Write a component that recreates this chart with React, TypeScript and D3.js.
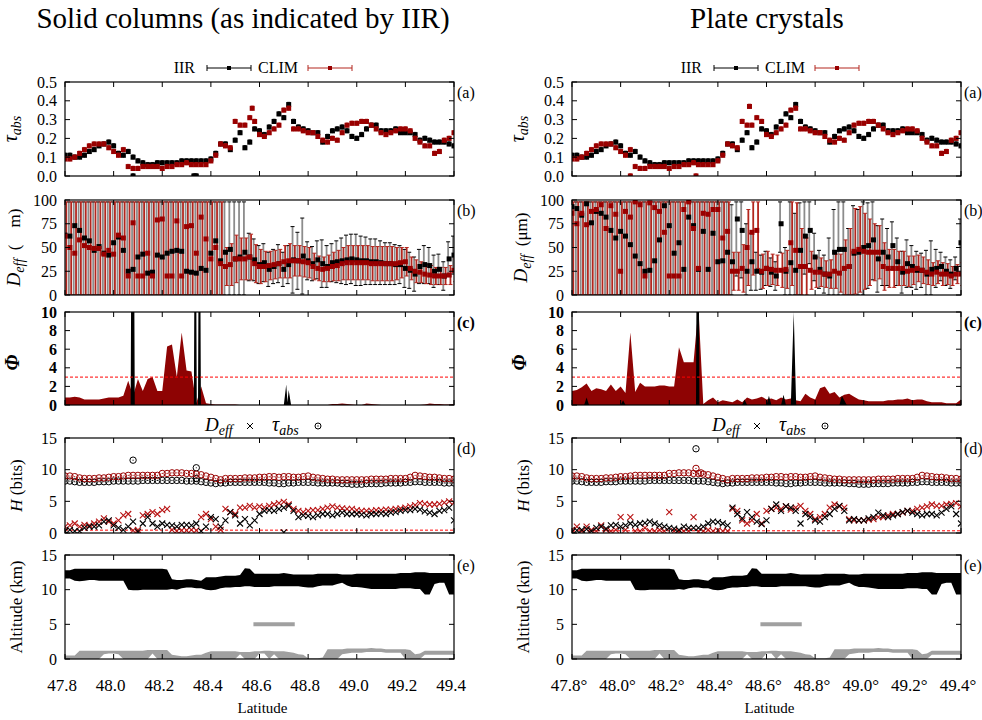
import React, { useEffect, useRef } from 'react'
import * as d3 from 'd3'

type Pair = [number, number]

// retrieval grid (0.02 deg steps) and axis ticks
const lat = d3.range(81).map(i => Math.round((47.8 + i * 0.02) * 100) / 100)
const latTicks = [47.8, 48.0, 48.2, 48.4, 48.6, 48.8, 49.0, 49.2, 49.4]
const titles = ['Solid columns (as indicated by IIR)', 'Plate crystals']
const seriesNames = ['IIR', 'CLIM']

// (a) absorption optical depth
const tauIIR = [
  0.11, 0.11, 0.10, 0.10, 0.11, 0.13, 0.14, 0.16, 0.17, 0.18,
  0.16, 0.12, 0.11, 0.13, 0.10, 0.08, 0.07, 0.06, 0.06, 0.07,
  0.07, 0.07, 0.07, 0.07, 0.08, 0.08, 0.08, 0.08, 0.08, 0.08,
  0.09, 0.12, 0.17, 0.17, 0.14, 0.19, 0.23, 0.15, 0.18, 0.25,
  0.24, 0.22, 0.26, 0.29, 0.33, 0.31, 0.38, 0.29, 0.26, 0.25,
  0.24, 0.23, 0.23, 0.18, 0.21, 0.24, 0.25, 0.26, 0.24, 0.21,
  0.20, 0.22, 0.25, 0.27, 0.27, 0.24, 0.24, 0.24, 0.25, 0.23,
  0.23, 0.23, 0.22, 0.19, 0.20, 0.19, 0.18, 0.18, 0.18, 0.17,
  0.16
]
const tauCLIM = [
  0.09, 0.09, 0.10, 0.12, 0.14, 0.16, 0.17, 0.17, 0.17, 0.15,
  0.13, 0.11, 0.14, 0.05, 0.04, 0.04, 0.05, 0.05, 0.05, 0.05,
  0.04, 0.05, 0.05, 0.06, 0.06, 0.07, 0.06, 0.06, 0.06, 0.06,
  0.08, 0.11, 0.17, 0.16, 0.15, 0.29, 0.27, 0.27, 0.31, 0.29,
  0.22, 0.21, 0.23, 0.25, 0.27, 0.35, 0.36, 0.25, 0.25, 0.24,
  0.23, 0.23, 0.21, 0.19, 0.18, 0.20, 0.19, 0.23, 0.27, 0.28,
  0.28, 0.29, 0.29, 0.27, 0.25, 0.23, 0.22, 0.23, 0.24, 0.25,
  0.25, 0.24, 0.20, 0.18, 0.16, 0.16, 0.12, 0.13, 0.19, 0.20,
  0.23
]
const tauErr = 0.012
const tauColIIRExtra: Pair[] = [[48.08, 0], [48.33, 0], [48.34, 0]]
const tauColCLIMExtra: Pair[] = [[48.57, 0.36]]
const tauPlaIIRExtra: Pair[] = []
const tauPlaCLIMExtra: Pair[] = [[48.04, 0], [48.31, 0], [48.53, 0.37]]

// (b) effective diameter and error half-widths, solid columns
const deffColIIR = [
  63, 62, 73, 68, 60, 57, 47, 51, 44, 42,
  55, 61, 47, 25, 27, 40, 43, 23, 24, 42,
  40, 44, 46, 47, 46, 25, 24, 23, 28, 26,
  44, 57, 36, 45, 48, 38, 40, 45, 40, 37,
  32, 34, 27, 30, 33, 27, 32, 37, 36, 41,
  36, 33, 37, 33, 30, 34, 35, 36, 37, 38,
  37, 36, 36, 35, 35, 34, 33, 33, 32, 32,
  28, 26, 22, 30, 32, 31, 25, 27, 20, 38,
  42
]
const deffColIIRErr = [
  100, 100, 100, 100, 100, 100, 100, 100, 100, 100,
  100, 100, 100, 100, 100, 100, 100, 100, 100, 100,
  100, 100, 100, 100, 100, 100, 100, 100, 100, 100,
  100, 100, 100, 60, 60, 100, 100, 60, 25, 22,
  20, 20, 18, 18, 20, 18, 20, 35, 30, 40,
  20, 18, 20, 25, 22, 20, 22, 24, 26, 26,
  27, 26, 25, 24, 24, 23, 22, 22, 21, 20,
  20, 19, 18, 18, 20, 19, 17, 16, 15, 18,
  20
]
const deffColCLIM = [
  62, 50, 44, 58, 52, 50, 49, 49, 43, 47,
  43, 63, 60, 20, 76, 20, 20, 44, 20, 79,
  80, 20, 20, 78, 20, 72, 73, 44, 82, 59,
  38, 50, 33, 30, 32, 38, 38, 38, 40, 33,
  30, 30, 31, 32, 33, 35, 36, 36, 36, 35,
  34, 30, 28, 27, 28, 30, 31, 33, 34, 34,
  34, 34, 34, 33, 33, 33, 33, 33, 33, 34,
  35, 28, 25, 24, 22, 21, 20, 20, 20, 21,
  26
]
const deffColCLIMErr = [
  100, 100, 100, 100, 100, 100, 100, 100, 100, 100,
  100, 100, 100, 100, 100, 100, 100, 100, 100, 100,
  100, 100, 100, 100, 100, 100, 100, 100, 100, 100,
  100, 100, 100, 20, 22, 25, 22, 22, 24, 20,
  18, 16, 15, 15, 15, 17, 18, 16, 16, 16,
  16, 14, 13, 13, 14, 15, 16, 17, 18, 18,
  18, 18, 18, 18, 18, 18, 18, 18, 17, 16,
  15, 12, 12, 11, 10, 10, 9, 9, 9, 10,
  12
]

// (b) plates
const deffPlaIIR = [
  93, 91, 84, 96, 76, 88, 86, 82, 68, 60,
  67, 62, 53, 41, 33, 25, 26, 36, 58, 94,
  73, 44, 55, 27, 82, 73, 27, 67, 27, 65,
  35, 36, 45, 35, 80, 68, 25, 35, 25, 24,
  28, 24, 20, 75, 25, 34, 26, 47, 62, 68,
  40, 27, 22, 20, 45, 48, 48, 30, 44, 45,
  50, 52, 58, 38, 45, 40, 52, 35, 24, 33,
  30, 26, 26, 22, 27, 28, 30, 25, 22, 28,
  55
]
const deffPlaIIRErr = [
  100, 100, 100, 100, 100, 100, 100, 100, 100, 100,
  100, 100, 100, 100, 100, 100, 100, 100, 100, 100,
  100, 100, 100, 100, 100, 100, 100, 100, 100, 100,
  100, 100, 100, 60, 60, 50, 50, 30, 20, 18,
  18, 15, 15, 30, 25, 65, 60, 50, 40, 35,
  25, 20, 20, 40, 45, 55, 50, 40, 50, 45,
  50, 45, 42, 35, 35, 30, 25, 25, 22, 25,
  22, 20, 18, 25, 30, 20, 15, 15, 15, 12,
  25
]
const deffPlaCLIM = [
  86, 75, 86, 74, 88, 90, 95, 70, 94, 85,
  25, 88, 82, 98, 95, 20, 97, 92, 88, 66,
  20, 20, 20, 90, 98, 70, 28, 86, 85, 90,
  90, 60, 67, 25, 25, 28, 50, 66, 68, 25,
  28, 27, 26, 26, 27, 55, 47, 30, 30, 26,
  24, 24, 22, 22, 25, 23, 28, 30, 46, 48,
  46, 45, 45, 45, 30, 28, 28, 28, 28, 25,
  26, 28, 26, 24, 22, 24, 22, 22, 20, 22,
  22
]
const deffPlaCLIMErr = [
  100, 100, 100, 100, 100, 100, 100, 100, 100, 100,
  100, 100, 100, 100, 100, 100, 100, 100, 100, 100,
  100, 100, 100, 100, 100, 100, 100, 100, 100, 100,
  100, 100, 100, 20, 20, 25, 40, 45, 40, 18,
  18, 16, 16, 18, 20, 45, 50, 40, 30, 20,
  16, 15, 14, 15, 18, 20, 30, 40, 45, 45,
  40, 35, 30, 28, 25, 20, 20, 18, 18, 16,
  15, 14, 14, 13, 12, 12, 12, 11, 10, 10,
  12
]

// (c) Phi
const phiColCLIM = [
  0.8, 0.8, 0.9, 0.8, 0.6, 0.6, 0.6, 0.6, 0.7, 0.8,
  0.8, 0.8, 1.0, 2.6, 1.0, 2.8, 1.5, 2.8, 3.0, 1.5,
  1.5, 6.3, 6.5, 3.0, 7.8, 3.7, 3.6, 0.2, 2.0, 0.2,
  0.1, 0.05, 0.05, 0.05, 0.05, 0.05, 0, 0, 0, 0,
  0, 0, 0, 0, 0, 0, 0, 0, 0, 0,
  0, 0, 0, 0, 0, 0.1, 0.1, 0.15, 0.1, 0.05,
  0, 0, 0.15, 0.1, 0.05, 0, 0, 0, 0, 0,
  0, 0, 0, 0, 0.05, 0.15, 0.1, 0.1, 0.05, 0.05,
  0.1
]
const phiColIIR: Pair[] = [
  [47.8, 0], [48.07, 0], [48.072, 12], [48.085, 12], [48.087, 0],
  [48.33, 0], [48.332, 12], [48.34, 12], [48.342, 0], [48.347, 0], [48.349, 12], [48.357, 12], [48.359, 0],
  [48.70, 0], [48.71, 2.2], [48.715, 0.3], [48.72, 1.6], [48.73, 0], [49.4, 0]
]
const phiPlaCLIM = [
  1.5, 1.6, 1.9, 2.3, 1.5, 1.8, 1.7, 1.5, 2.2, 1.5,
  2.0, 1.3, 7.8, 1.4, 2.4, 2.0, 2.0, 2.0, 2.1, 2.1,
  2.0, 2.0, 6.2, 4.6, 4.6, 4.6, 10.5, 0.1, 0.5, 0.8,
  0.3, 0.5, 0.4, 0.3, 0.6, 0.3, 0.8, 0.6, 0.7, 0.9,
  0.6, 0.7, 0.5, 0.8, 0.6, 0.7, 0.5, 0.4, 1.2, 0.8,
  0.6, 1.8, 2.0, 1.2, 1.4, 0.8, 1.1, 1.2, 0.9, 0.6,
  0.5, 0.4, 0.4, 0.4, 0.4, 0.5, 0.5, 0.6, 0.6, 0.7,
  0.5, 0.6, 0.6, 0.4, 0.3, 0.3, 0.3, 0.2, 0.2, 0.2,
  0.6
]
const phiPlaIIR: Pair[] = [
  [47.8, 0], [47.85, 0], [47.86, 0.8], [47.87, 0], [48.0, 0], [48.01, 0.5], [48.02, 0],
  [48.31, 0], [48.312, 12], [48.322, 12], [48.324, 0],
  [48.5, 0], [48.51, 0.6], [48.52, 0], [48.6, 0], [48.61, 1.0], [48.62, 0],
  [48.66, 0], [48.67, 1.1], [48.68, 0], [48.70, 0], [48.712, 10], [48.722, 0],
  [48.9, 0], [48.91, 1.0], [48.93, 0], [49.4, 0]
]
const phiThreshold = 3

// (d) information content H (bits)
const hTauCLIM = [
  9.0, 9.0, 8.9, 8.7, 8.6, 8.6, 8.6, 8.7, 8.7, 8.8,
  8.9, 8.9, 9.0, 9.1, 9.1, 9.1, 9.1, 9.1, 9.1, 9.1,
  9.4, 9.4, 9.5, 9.5, 9.5, 9.4, 9.4, 9.3, 9.2, 9.0,
  8.8, 8.6, 8.4, 8.6, 8.6, 8.6, 8.6, 8.7, 8.7, 8.7,
  8.8, 8.8, 8.9, 8.9, 8.8, 8.9, 8.9, 8.8, 8.8, 8.9,
  9.0, 8.8, 8.7, 8.6, 8.5, 8.5, 8.4, 8.4, 8.4, 8.4,
  8.4, 8.4, 8.4, 8.5, 8.5, 8.5, 8.5, 8.6, 8.6, 8.6,
  8.6, 8.8, 9.1, 9.0, 8.9, 8.8, 8.8, 8.7, 8.6, 8.6,
  8.5
]
const hTauIIR = [
  8.2, 8.2, 8.1, 8.0, 8.0, 8.0, 8.0, 8.1, 8.1, 8.1,
  8.2, 8.2, 8.2, 8.2, 8.2, 8.2, 8.3, 8.3, 8.3, 8.3,
  8.3, 8.3, 8.3, 8.3, 8.3, 8.2, 8.2, 8.2, 8.1, 8.0,
  7.9, 7.8, 7.9, 7.9, 8.0, 8.0, 8.0, 8.0, 8.0, 8.0,
  8.0, 8.0, 7.9, 7.9, 7.8, 7.8, 7.9, 7.9, 8.0, 8.0,
  8.0, 8.0, 7.9, 7.9, 7.9, 7.9, 7.9, 7.8, 7.8, 7.7,
  7.7, 7.7, 7.8, 7.8, 7.8, 7.8, 7.9, 7.9, 7.9, 7.9,
  8.0, 8.0, 8.1, 8.1, 8.0, 8.0, 8.0, 8.0, 7.9, 7.9,
  7.9
]
const hTauColIIRExtra: Pair[] = [[48.08, 11.5], [48.34, 10.3], [48.34, 8.6]]
const hTauColCLIMExtra: Pair[] = []
const hTauPlaIIRExtra: Pair[] = [[48.31, 13.3]]
const hTauPlaCLIMExtra: Pair[] = [[48.31, 10.2], [48.33, 9.5]]

const hDeffColIIR = [
  0.3, 0.5, 0.3, 0.3, 0.8, 1.0, 1.0, 1.2, 1.8, 2.0,
  1.2, 0.8, 0.5, 1.0, 1.8, 0.2, 1.5, 2.5, 1.5, 1.0,
  1.5, 1.3, 1.2, 1.0, 1.3, 1.3, 1.2, 1.5, 0.3, 1.0,
  2.5, 2.2, 1.0, 2.0, 3.3, 2.8, 1.5, 2.2, 1.2, 2.0,
  3.0, 3.5, 3.6, 3.5, 3.8, 4.0, 4.3, 3.5, 2.5, 2.8,
  2.7, 2.5, 2.8, 3.0, 3.0, 2.8, 3.0, 3.2, 3.0, 3.0,
  3.0, 2.9, 2.8, 3.0, 3.0, 3.1, 3.0, 3.2, 3.3, 3.5,
  3.6, 3.6, 3.8, 3.7, 3.4, 3.2, 3.0, 3.5, 3.6, 4.0,
  2.0
]
const hDeffColCLIM = [
  1.0, 1.2, 1.5, 1.0, 1.3, 1.2, 1.5, 1.8, 2.3, 1.8,
  1.5, 2.0, 2.8, 3.0, 0.4, 0.5, 2.8, 3.0, 3.3, 3.0,
  3.6, 3.8, 0.5, 0.3, 0.4, 0.4, 0.5, 0.4, 2.5, 3.0,
  2.2, 1.0, 0.5, 3.8, 3.3, 3.0, 4.0, 4.0, 4.3, 4.0,
  4.2, 4.0, 4.3, 4.5, 4.7, 4.9, 4.5, 3.8, 3.5, 3.3,
  3.5, 3.6, 3.6, 3.8, 4.0, 4.2, 4.0, 3.9, 3.8, 3.8,
  3.6, 3.5, 3.5, 3.5, 3.6, 3.6, 3.7, 3.7, 3.8, 3.9,
  4.0, 4.2, 4.4, 4.7, 4.6, 4.5, 4.5, 4.6, 4.8, 5.0,
  4.8
]
const hDeffColIIRExtra: Pair[] = [[48.70, 0.1]]
const hDeffPlaIIR = [
  0.2, 0.4, 0.5, 0.6, 0.3, 0.8, 1.0, 0.7, 1.2, 1.3,
  1.0, 1.2, 1.5, 1.3, 1.5, 1.6, 1.8, 1.5, 1.2, 1.0,
  0.8, 0.7, 0.5, 1.0, 0.8, 0.8, 0.8, 1.0, 1.5, 1.8,
  1.7, 1.5, 1.2, 4.0, 3.0, 2.3, 3.3, 2.5, 1.8, 1.4,
  2.0, 3.8, 4.5, 3.5, 4.2, 4.0, 3.5, 1.5, 3.0, 2.5,
  2.0, 1.8, 2.5, 3.0, 3.8, 4.3, 3.5, 2.0, 2.2, 2.0,
  2.0, 2.3, 2.5, 3.2, 2.8, 2.5, 2.8, 3.0, 3.3, 3.5,
  3.2, 3.0, 2.8, 3.0, 3.0, 2.8, 3.2, 3.8, 4.2, 3.0,
  1.5
]
const hDeffPlaCLIM = [
  0.5, 1.0, 0.3, 1.0, 0.5, 0.3, 1.2, 0.5, 0.3, 0.5,
  2.5, 0.5, 2.5, 0.3, 0.3, 0.8, 0.3, 0.3, 0.5, 0.3,
  3.3, 0.3, 0.2, 0.3, 0.3, 2.5, 0.2, 0.3, 0.5, 0.3,
  0.4, 0.3, 0.3, 3.8, 3.5, 2.0, 1.5, 2.0, 3.0, 1.5,
  3.5, 3.8, 4.0, 3.8, 4.2, 3.7, 4.0, 4.3, 3.5, 3.0,
  2.2, 2.5, 3.0, 4.0, 4.5, 4.2, 4.0, 2.2, 2.0, 2.0,
  2.0, 2.1, 2.2, 2.5, 2.5, 2.8, 3.0, 3.0, 3.2, 3.5,
  3.5, 3.8, 4.0, 4.2, 4.5, 4.3, 4.3, 4.5, 4.6, 4.7,
  4.2
]
const hDeffPlaIIRExtra: Pair[] = []
const hThreshold = [0.45, 0.35]

// (e) cloud layers (km)
const altTop = [
  12.8, 12.8, 13.0, 13.0, 13.0, 13.0, 13.0, 13.0, 13.0, 13.0,
  13.0, 13.0, 13.0, 13.0, 13.0, 13.0, 13.0, 13.0, 13.0, 13.0,
  13.0, 12.9, 11.5, 11.4, 11.4, 11.5, 11.5, 11.4, 11.3, 11.8,
  11.8, 11.8, 11.9, 12.0, 12.0, 12.0, 12.1, 13.1, 13.0, 12.3,
  12.3, 12.3, 12.3, 12.3, 12.3, 12.4, 12.3, 12.2, 12.2, 12.2,
  12.2, 12.2, 12.3, 12.3, 12.3, 12.3, 12.3, 12.2, 12.2, 12.2,
  12.3, 12.3, 12.3, 12.3, 12.3, 12.3, 12.3, 12.3, 12.3, 12.4,
  12.4, 12.4, 12.5, 12.5, 12.5, 12.4, 12.4, 12.4, 12.4, 12.4,
  12.4
]
const altBot = [
  11.6, 11.6, 11.3, 11.2, 11.3, 11.4, 11.4, 11.3, 11.3, 11.3,
  11.3, 11.3, 11.3, 10.0, 9.9, 9.9, 10.0, 10.0, 10.0, 10.0,
  10.0, 10.0, 10.1, 10.0, 10.2, 10.3, 10.3, 10.2, 10.2, 10.0,
  9.9, 10.0, 10.2, 10.3, 10.3, 10.4, 10.4, 10.5, 10.5, 10.4,
  10.4, 10.4, 10.4, 10.5, 10.5, 10.5, 10.5, 10.5, 10.5, 10.4,
  10.3, 10.3, 10.5, 10.6, 10.6, 10.6, 10.8, 11.0, 10.6, 10.4,
  10.4, 10.3, 10.2, 10.1, 10.1, 10.1, 10.1, 10.1, 10.1, 10.2,
  10.2, 10.2, 10.1, 10.1, 9.3, 9.3, 10.8, 11.0, 11.0, 9.3,
  9.3
]
const lowTop = [
  0.5, 0.5, 0.5, 1.2, 1.2, 1.2, 1.2, 1.2, 1.2, 1.2,
  1.2, 1.2, 1.2, 1.2, 1.2, 1.2, 1.2, 1.3, 1.3, 1.3,
  1.3, 1.3, 0.6, 0.5, 0.4, 0.4, 0.5, 0.6, 0.6, 0.9,
  1.1, 1.1, 1.1, 1.1, 1.1, 1.1, 1.0, 1.0, 1.0, 1.1,
  1.1, 1.2, 1.2, 1.1, 1.1, 1.1, 1.0, 0.9, 0.7, 0.6,
  0.1, 0.1, 0.1, 0.2, 1.4, 1.4, 1.4, 1.4, 1.5, 1.5,
  1.5, 1.5, 1.5, 1.6, 1.5, 1.5, 1.4, 1.4, 1.4, 1.4,
  1.4, 1.3, 0.7, 0.8, 1.2, 1.2, 1.2, 1.2, 1.2, 1.2,
  1.2
]
const lowBot = [
  0, 0, 0, 0, 0, 0, 0, 0, 0.7, 0.8,
  0.8, 0.7, 0, 0, 0, 0, 0, 0, 0.8, 0,
  0, 0, 0, 0, 0, 0, 0, 0, 0, 0,
  0, 0, 0, 0, 0, 0, 0.7, 0, 0, 0,
  0.8, 0.8, 0, 0.7, 0, 0, 0, 0, 0, 0,
  0, 0, 0, 0, 0, 0, 0, 0.7, 0.8, 0.9,
  0.9, 0.9, 1.0, 1.0, 1.0, 1.0, 0.9, 0.9, 0.9, 0.9,
  0, 0, 0, 0, 0.6, 0.6, 0.6, 0.6, 0.6, 0.6,
  0.6
]
const midLayerLat = [48.575, 48.745]
const midLayerAlt = [5.0, 5.0]

const FONT = 'Liberation Serif, DejaVu Serif, Times New Roman, serif'
const RED = '#990000'
const RED_BAR = '#b3261e'
const GREY_BAR = '#8c8c8c'
const GREY = '#a0a0a0'
const PW = 389
const MS = 5
const PANEL_Y: Pair[] = [[82, 176], [200, 295], [312, 405], [438, 533], [555, 659]]

const columns = [
  {
    x0: 65, titleX: 243, title: titles[0], unit: '(\u2002\u2002m)', degree: false,
    tauIIRExtra: tauColIIRExtra, tauCLIMExtra: tauColCLIMExtra,
    deffIIR: deffColIIR, deffIIRErr: deffColIIRErr, deffCLIM: deffColCLIM, deffCLIMErr: deffColCLIMErr,
    phiCLIM: phiColCLIM, phiIIR: phiColIIR,
    hTauIIRExtra: hTauColIIRExtra, hTauCLIMExtra: hTauColCLIMExtra,
    hDeffIIR: hDeffColIIR, hDeffCLIM: hDeffColCLIM, hDeffIIRExtra: hDeffColIIRExtra, hThr: hThreshold[0]
  },
  {
    x0: 572, titleX: 767, title: titles[1], unit: '(\u03bcm)', degree: true,
    tauIIRExtra: tauPlaIIRExtra, tauCLIMExtra: tauPlaCLIMExtra,
    deffIIR: deffPlaIIR, deffIIRErr: deffPlaIIRErr, deffCLIM: deffPlaCLIM, deffCLIMErr: deffPlaCLIMErr,
    phiCLIM: phiPlaCLIM, phiIIR: phiPlaIIR,
    hTauIIRExtra: hTauPlaIIRExtra, hTauCLIMExtra: hTauPlaCLIMExtra,
    hDeffIIR: hDeffPlaIIR, hDeffCLIM: hDeffPlaCLIM, hDeffIIRExtra: hDeffPlaIIRExtra, hThr: hThreshold[1]
  }
]

const pairs = (vals: number[]): Pair[] => vals.map((v, i) => [lat[i], v])
const crossPath = 'M-3,-3L3,3M-3,3L3,-3'

function makePanel (g: any, x: any, ci: number, key: string, yr: Pair, domain: Pair, ticks: number[], fmt: (v: number) => string) {
  const [top, bottom] = yr
  const [x0, x1] = x.range()
  const y = d3.scaleLinear().domain(domain).range([bottom, top])
  const id = `clip-${ci}-${key}`
  g.append('clipPath').attr('id', id)
    .append('rect').attr('x', x0).attr('y', top).attr('width', x1 - x0).attr('height', bottom - top)
  const data = g.append('g').attr('clip-path', `url(#${id})`)
  const frame = g.append('g')
  frame.append('rect')
    .attr('x', x0).attr('y', top).attr('width', x1 - x0).attr('height', bottom - top)
    .attr('fill', 'none').attr('stroke', '#000').attr('stroke-width', 1.2)
  latTicks.forEach(t => {
    frame.append('line').attr('x1', x(t)).attr('x2', x(t)).attr('y1', bottom).attr('y2', bottom - 5).attr('stroke', '#000')
    frame.append('line').attr('x1', x(t)).attr('x2', x(t)).attr('y1', top).attr('y2', top + 5).attr('stroke', '#000')
  })
  ticks.forEach(t => {
    frame.append('line').attr('x1', x0).attr('x2', x0 + 5).attr('y1', y(t)).attr('y2', y(t)).attr('stroke', '#000')
    frame.append('line').attr('x1', x1).attr('x2', x1 - 5).attr('y1', y(t)).attr('y2', y(t)).attr('stroke', '#000')
    frame.append('text').attr('x', x0 - 8).attr('y', y(t) + 5.5).attr('text-anchor', 'end')
      .style('font-size', '16px').style('font-weight', key === 'c' ? 'bold' : 'normal').text(fmt(t))
  })
  frame.append('text').attr('x', x1 + 3).attr('y', top + 16).style('font-size', '16px')
    .style('font-weight', key === 'c' ? 'bold' : 'normal').text(`(${key})`)
  return { y, data, frame, top, bottom }
}

function yLabel (g: any, cx: number, cy: number) {
  return g.append('text').attr('transform', `translate(${cx},${cy}) rotate(-90)`)
    .attr('text-anchor', 'middle').style('font-size', '17px')
}

function drawColumn (svg: any, col: any, ci: number) {
  const x0 = col.x0
  const x1 = x0 + PW
  const x = d3.scaleLinear().domain([47.8, 49.4]).range([x0, x1])
  const g = svg.append('g')

  g.append('text').attr('x', col.titleX).attr('y', 28).attr('text-anchor', 'middle').style('font-size', '29px').text(col.title)

  // legend for (a)/(b)
  const ly = 68
  const legend = [
    { name: seriesNames[0], color: '#000', bar: '#000', tx: x0 + 130, s0: x0 + 142 },
    { name: seriesNames[1], color: RED, bar: RED_BAR, tx: x0 + 193, s0: x0 + 243 }
  ]
  legend.forEach((l, i) => {
    g.append('text').attr('x', l.tx).attr('y', ly + 5).style('font-size', '16px')
      .attr('text-anchor', i === 0 ? 'end' : 'start').text(l.name)
    g.append('line').attr('x1', l.s0).attr('x2', l.s0 + 44).attr('y1', ly).attr('y2', ly).attr('stroke', l.bar)
    ;[l.s0, l.s0 + 44].forEach(px => g.append('line').attr('x1', px).attr('x2', px).attr('y1', ly - 3).attr('y2', ly + 3).attr('stroke', l.bar))
    g.append('rect').attr('x', l.s0 + 20).attr('y', ly - 2).attr('width', 4).attr('height', 4).attr('fill', l.color)
  })

  // (a) tau_abs
  const pa = makePanel(g, x, ci, 'a', PANEL_Y[0], [0, 0.5], [0, 0.1, 0.2, 0.3, 0.4, 0.5], v => v.toFixed(1))
  const tauSeries = [
    { pts: pairs(tauIIR).concat(col.tauIIRExtra), color: '#000', bar: '#000' },
    { pts: pairs(tauCLIM).concat(col.tauCLIMExtra), color: RED, bar: RED_BAR }
  ]
  tauSeries.forEach(s => {
    const sg = pa.data.append('g')
    sg.selectAll('line.e').data(s.pts).join('line').attr('class', 'e')
      .attr('x1', (d: Pair) => x(d[0])).attr('x2', (d: Pair) => x(d[0]))
      .attr('y1', (d: Pair) => pa.y(d[1] - tauErr)).attr('y2', (d: Pair) => pa.y(d[1] + tauErr))
      .attr('stroke', s.bar).attr('stroke-width', 0.8)
    sg.selectAll('line.c').data(s.pts).join('line').attr('class', 'c')
      .attr('x1', (d: Pair) => x(d[0]) - 1.5).attr('x2', (d: Pair) => x(d[0]) + 1.5)
      .attr('y1', (d: Pair) => pa.y(d[1] + tauErr)).attr('y2', (d: Pair) => pa.y(d[1] + tauErr))
      .attr('stroke', s.bar).attr('stroke-width', 0.8)
    sg.selectAll('rect').data(s.pts).join('rect')
      .attr('x', (d: Pair) => x(d[0]) - MS / 2).attr('y', (d: Pair) => pa.y(d[1]) - MS / 2)
      .attr('width', MS).attr('height', MS).attr('fill', s.color)
  })
  const la = yLabel(g, x0 - 48, (PANEL_Y[0][0] + PANEL_Y[0][1]) / 2).style('font-size', '20px')
  la.append('tspan').style('font-style', 'italic').text('\u03c4')
  la.append('tspan').style('font-style', 'italic').style('font-size', '14px').attr('dy', 4).text('abs')

  // (b) D_eff
  const pb = makePanel(g, x, ci, 'b', PANEL_Y[1], [0, 100], [0, 25, 50, 75, 100], v => String(v))
  const deffSeries = [
    { vals: col.deffIIR, errs: col.deffIIRErr, dx: -1, color: '#000', bar: GREY_BAR, cap: '#000' },
    { vals: col.deffCLIM, errs: col.deffCLIMErr, dx: 1.3, color: RED, bar: RED_BAR, cap: RED_BAR }
  ]
  deffSeries.forEach(s => {
    const pts = s.vals.map((v: number, i: number) => ({ la: lat[i], v, lo: Math.max(0, v - s.errs[i]), hi: Math.min(98, v + s.errs[i]) }))
    const sg = pb.data.append('g')
    sg.selectAll('line.e').data(pts).join('line').attr('class', 'e')
      .attr('x1', (d: any) => x(d.la) + s.dx).attr('x2', (d: any) => x(d.la) + s.dx)
      .attr('y1', (d: any) => pb.y(d.lo)).attr('y2', (d: any) => pb.y(d.hi))
      .attr('stroke', s.bar).attr('stroke-width', 1.8)
    ;['lo', 'hi'].forEach(k => {
      sg.selectAll(`line.${k}`).data(pts).join('line').attr('class', k)
        .attr('x1', (d: any) => x(d.la) + s.dx - 2).attr('x2', (d: any) => x(d.la) + s.dx + 2)
        .attr('y1', (d: any) => pb.y(d[k])).attr('y2', (d: any) => pb.y(d[k]))
        .attr('stroke', s.cap).attr('stroke-width', 1)
    })
  })
  deffSeries.forEach(s => {
    pb.data.append('g').selectAll('rect').data(pairs(s.vals)).join('rect')
      .attr('x', (d: Pair) => x(d[0]) - MS / 2).attr('y', (d: Pair) => pb.y(d[1]) - MS / 2)
      .attr('width', MS).attr('height', MS).attr('fill', s.color)
  })
  const lb = yLabel(g, x0 - 45, (PANEL_Y[1][0] + PANEL_Y[1][1]) / 2)
  lb.append('tspan').style('font-style', 'italic').style('font-size', '19px').text('D')
  lb.append('tspan').style('font-style', 'italic').style('font-size', '14px').attr('dy', 4).text('eff')
  lb.append('tspan').attr('dy', -4).text('\u2002' + col.unit)

  // (c) Phi
  const pc = makePanel(g, x, ci, 'c', PANEL_Y[2], [0, 10], [0, 2, 4, 6, 8, 10], v => String(v))
  const area = (yy: any) => d3.area<Pair>().x(d => x(d[0])).y0(yy(0)).y1(d => yy(d[1]))
  pc.data.append('path').datum(pairs(col.phiCLIM)).attr('d', area(pc.y)).attr('fill', '#8e0303')
  pc.data.append('path').datum(col.phiIIR).attr('d', area(pc.y)).attr('fill', '#000')
  pc.data.append('line').attr('x1', x0).attr('x2', x1).attr('y1', pc.y(phiThreshold)).attr('y2', pc.y(phiThreshold))
    .attr('stroke', '#ff0000').attr('stroke-width', 1).attr('stroke-dasharray', '3,2')
  yLabel(g, x0 - 46, (PANEL_Y[2][0] + PANEL_Y[2][1]) / 2 + 4).style('font-size', '20px')
    .style('font-style', 'italic').style('font-weight', 'bold').text('\u03a6')

  // (d) H
  const ldy = 426
  g.append('text').attr('x', x0 + 140).attr('y', ldy + 5).style('font-size', '19px').style('font-style', 'italic')
    .call((t: any) => { t.append('tspan').text('D'); t.append('tspan').style('font-size', '14px').attr('dy', 4).text('eff') })
  g.append('path').attr('transform', `translate(${x0 + 185},${ldy})`).attr('d', crossPath).attr('stroke', '#000').attr('fill', 'none')
  g.append('text').attr('x', x0 + 207).attr('y', ldy + 5).style('font-size', '20px').style('font-style', 'italic')
    .call((t: any) => { t.append('tspan').text('\u03c4'); t.append('tspan').style('font-size', '14px').attr('dy', 4).text('abs') })
  g.append('circle').attr('cx', x0 + 253).attr('cy', ldy).attr('r', 3).attr('fill', 'none').attr('stroke', '#000')
  g.append('circle').attr('cx', x0 + 253).attr('cy', ldy).attr('r', 0.7).attr('fill', '#000')

  const pd = makePanel(g, x, ci, 'd', PANEL_Y[3], [0, 15], [0, 5, 10, 15], v => String(v))
  pd.data.append('line').attr('x1', x0).attr('x2', x1).attr('y1', pd.y(col.hThr)).attr('y2', pd.y(col.hThr))
    .attr('stroke', '#ff0000').attr('stroke-width', 1).attr('stroke-dasharray', '3,2')
  const circles = [
    { pts: pairs(hTauIIR).concat(col.hTauIIRExtra), color: '#000' },
    { pts: pairs(hTauCLIM).concat(col.hTauCLIMExtra), color: RED }
  ]
  circles.forEach(s => {
    const sg = pd.data.append('g')
    sg.selectAll('circle.o').data(s.pts).join('circle').attr('class', 'o')
      .attr('cx', (d: Pair) => x(d[0])).attr('cy', (d: Pair) => pd.y(d[1])).attr('r', 3.2)
      .attr('fill', 'none').attr('stroke', s.color).attr('stroke-width', 1)
    sg.selectAll('circle.p').data(s.pts).join('circle').attr('class', 'p')
      .attr('cx', (d: Pair) => x(d[0])).attr('cy', (d: Pair) => pd.y(d[1])).attr('r', 0.6).attr('fill', s.color)
  })
  const crosses = [
    { pts: pairs(col.hDeffCLIM), color: '#b81414' },
    { pts: pairs(col.hDeffIIR).concat(col.hDeffIIRExtra), color: '#000' }
  ]
  crosses.forEach(s => {
    pd.data.append('g').selectAll('path').data(s.pts).join('path')
      .attr('transform', (d: Pair) => `translate(${x(d[0])},${pd.y(d[1])})`)
      .attr('d', crossPath).attr('stroke', s.color).attr('stroke-width', 1.1).attr('fill', 'none')
  })
  const ld = yLabel(g, x0 - 43, (PANEL_Y[3][0] + PANEL_Y[3][1]) / 2)
  ld.append('tspan').style('font-style', 'italic').text('H')
  ld.append('tspan').text(' (bits)')

  // (e) altitude
  const pe = makePanel(g, x, ci, 'e', PANEL_Y[4], [0, 15], [0, 5, 10, 15], v => String(v))
  const band = (lo: number[], hi: number[]) => d3.area<number>()
    .x((_, i) => x(lat[i])).y0((_, i) => pe.y(lo[i])).y1((_, i) => pe.y(hi[i]))(hi)
  pe.data.append('path').attr('d', band(altBot, altTop)).attr('fill', '#000')
  pe.data.append('path').attr('d', band(lowBot, lowTop)).attr('fill', GREY)
  pe.data.append('path')
    .attr('d', d3.line<number>().x(d => x(d)).y((_, i) => pe.y(midLayerAlt[i]))(midLayerLat))
    .attr('stroke', GREY).attr('stroke-width', 4)
  yLabel(g, x0 - 43, (PANEL_Y[4][0] + PANEL_Y[4][1]) / 2).text('Altitude (km)')

  latTicks.forEach(t => {
    g.append('text').attr('x', x(t) - 3).attr('y', 691).attr('text-anchor', 'middle').style('font-size', '17px')
      .text(t.toFixed(1) + (col.degree ? '\u00b0' : ''))
  })
  g.append('text').attr('x', (x0 + x1) / 2 + 3).attr('y', 713).attr('text-anchor', 'middle').style('font-size', '15px').text('Latitude')
}

export default function App () {
  const ref = useRef<SVGSVGElement | null>(null)
  useEffect(() => {
    const svg = d3.select(ref.current)
    svg.selectAll('*').remove()
    columns.forEach((col, ci) => drawColumn(svg, col, ci))
  }, [])
  return (
    <svg
      ref={ref}
      width={982}
      height={720}
      style={{ position: 'absolute', left: 0, top: 0, background: '#fff', fontFamily: FONT }}
    />
  )
}
